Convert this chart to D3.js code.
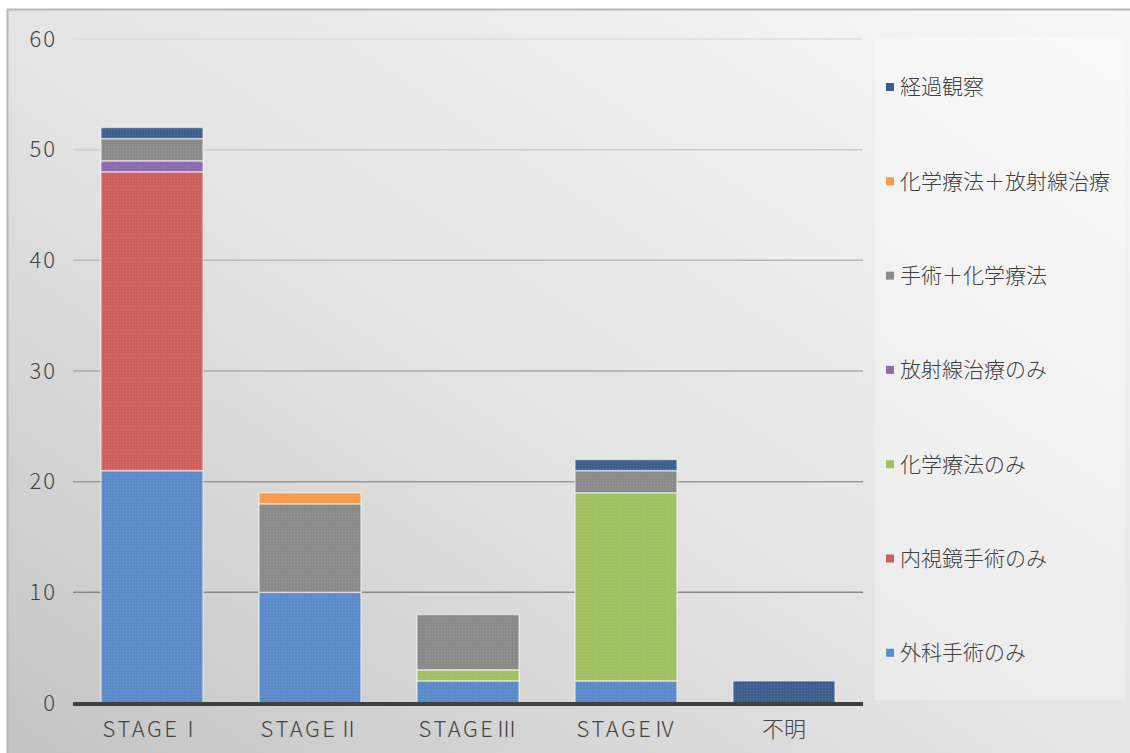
<!DOCTYPE html>
<html>
<head>
<meta charset="utf-8">
<script src="https://cdn.jsdelivr.net/npm/d3@7"></script>
<style>
  body{margin:0;background:#fff;}
  text{font-family:"Noto Sans CJK JP","Noto Sans",sans-serif;}
</style>
</head>
<body>
<script>
var stages = ["STAGEⅠ","STAGEⅡ","STAGEⅢ","STAGEⅣ","不明"];
var treatments = ["外科手術のみ","内視鏡手術のみ","化学療法のみ","放射線治療のみ","手術＋化学療法","化学療法＋放射線治療","経過観察"];
var colors = ["#5b8bc8","#d0605c","#a1c062","#8c6bb0","#8a8a8a","#f79a4c","#3d5f8e"];

var surgeryOnly   = [21,10,2,2,0];
var endoscopyOnly = [27,0,0,0,0];
var chemoOnly     = [0,0,1,17,0];
var radiationOnly = [1,0,0,0,0];
var surgeryChemo  = [2,8,5,2,0];
var chemoRadiation= [0,1,0,0,0];
var observation   = [1,0,0,1,2];
var yTicks = [0,10,20,30,40,50,60];

var seriesValues = [surgeryOnly,endoscopyOnly,chemoOnly,radiationOnly,surgeryChemo,chemoRadiation,observation];

var width = 1130, height = 753;
var margin = {left:73, right:267, top:39, bottom:50};
var plotRight = width - margin.right;

var table = stages.map(function(s,i){
  var row = {stage:s};
  treatments.forEach(function(t,j){ row[t] = seriesValues[j][i]; });
  return row;
});

var svg = d3.select("body").append("svg")
  .attr("width",width)
  .attr("height",height);

var defs = svg.append("defs");
var bg = defs.append("linearGradient")
  .attr("id","bg")
  .attr("x1","100%").attr("y1","0%")
  .attr("x2","0%").attr("y2","100%");
bg.append("stop").attr("offset","0%").attr("stop-color","#f8f8f8");
bg.append("stop").attr("offset","55%").attr("stop-color","#e3e3e3");
bg.append("stop").attr("offset","100%").attr("stop-color","#c4c4c4");

var dots = defs.append("pattern")
  .attr("id","dots")
  .attr("width",3).attr("height",3)
  .attr("patternUnits","userSpaceOnUse");
dots.append("rect").attr("width",1).attr("height",1).attr("fill","#fff").attr("opacity",0.12);

// frame
svg.append("rect")
  .attr("x",7).attr("y",9)
  .attr("width",width-7).attr("height",height-9)
  .attr("fill","url(#bg)");
svg.append("path")
  .attr("d","M7.5,"+height+"V9.5H"+width)
  .attr("fill","none")
  .attr("stroke","#b8b8b8")
  .attr("stroke-width",2);

var x = d3.scaleBand()
  .domain(stages)
  .range([margin.left, margin.left+790])
  .paddingInner(0.354)
  .paddingOuter(0.177);

var y = d3.scaleLinear()
  .domain([0,60])
  .range([height-margin.bottom, margin.top]);

var gridColor = d3.scaleLinear().domain([60,10]).range(["#dddddd","#888888"]);

// grid lines
svg.append("g")
  .selectAll("line")
  .data(yTicks.filter(function(d){ return d>0; }))
  .enter().append("line")
  .attr("x1",margin.left)
  .attr("x2",plotRight)
  .attr("y1",function(d){ return y(d); })
  .attr("y2",function(d){ return y(d); })
  .attr("stroke",function(d){ return gridColor(d); })
  .attr("stroke-width",1.5);

// y labels
var yAxis = svg.append("g")
  .attr("transform","translate("+(margin.left-16)+",0)")
  .call(d3.axisLeft(y).tickValues(yTicks).tickSize(0).tickPadding(0));
yAxis.select(".domain").remove();
yAxis.selectAll("text")
  .attr("fill","#444")
  .style("font-size","22px")
  .style("font-weight","300")
  .style("letter-spacing","2px")
  .style("font-family","'Noto Sans CJK JP',sans-serif");

// bars
var stack = d3.stack().keys(treatments);
var layers = stack(table);

var groups = svg.append("g")
  .selectAll("g")
  .data(layers)
  .enter().append("g")
  .attr("fill",function(d,i){ return colors[i]; });

groups.selectAll("rect")
  .data(function(d){ return d.filter(function(p){ return p[1]-p[0] > 0; }); })
  .enter().append("rect")
  .attr("x",function(d){ return x(d.data.stage); })
  .attr("width",x.bandwidth())
  .attr("y",function(d){ return y(d[1]); })
  .attr("height",function(d){ return y(d[0])-y(d[1]); })
  .attr("stroke","#ffffff")
  .attr("stroke-opacity",0.55)
  .attr("stroke-width",1.5);

groups.selectAll(".tex")
  .data(function(d){ return d.filter(function(p){ return p[1]-p[0] > 0; }); })
  .enter().append("rect")
  .attr("class","tex")
  .attr("x",function(d){ return x(d.data.stage); })
  .attr("width",x.bandwidth())
  .attr("y",function(d){ return y(d[1]); })
  .attr("height",function(d){ return y(d[0])-y(d[1]); })
  .attr("fill","url(#dots)");

// baseline
svg.append("line")
  .attr("x1",margin.left)
  .attr("x2",plotRight)
  .attr("y1",y(0)+1)
  .attr("y2",y(0)+1)
  .attr("stroke","#404040")
  .attr("stroke-width",4);

// x labels
var xAxis = svg.append("g")
  .attr("transform","translate(0,"+(y(0)+18)+")")
  .call(d3.axisBottom(x).tickSize(0).tickPadding(0));
xAxis.select(".domain").remove();
xAxis.selectAll("text")
  .attr("fill","#444")
  .style("font-size","22px")
  .style("font-weight","300")
  .style("font-family","'Noto Sans CJK JP',sans-serif")
  .each(function(d){
    var t = d3.select(this), m = d.match(/^(STAGE)(.+)$/);
    if(!m) return;
    t.text(null);
    t.append("tspan").style("letter-spacing","2.5px").text(m[1]);
    t.append("tspan").text(m[2]);
  });

// legend
svg.append("rect")
  .attr("x",875).attr("y",38)
  .attr("width",250).attr("height",662)
  .attr("fill","#ffffff")
  .attr("opacity",0.3);

var legendItems = treatments.slice().reverse();
var legend = svg.append("g")
  .selectAll("g")
  .data(legendItems)
  .enter().append("g")
  .attr("transform",function(d,i){ return "translate(886,"+(87+i*94.3)+")"; });

legend.append("rect")
  .attr("x",0).attr("y",-4)
  .attr("width",8).attr("height",8)
  .attr("fill",function(d){ return colors[treatments.indexOf(d)]; });

legend.append("text")
  .attr("x",14)
  .attr("dy","0.35em")
  .attr("fill","#404040")
  .style("font-size","21px")
  .style("font-weight","300")
  .text(function(d){ return d; });
</script>
</body>
</html>
